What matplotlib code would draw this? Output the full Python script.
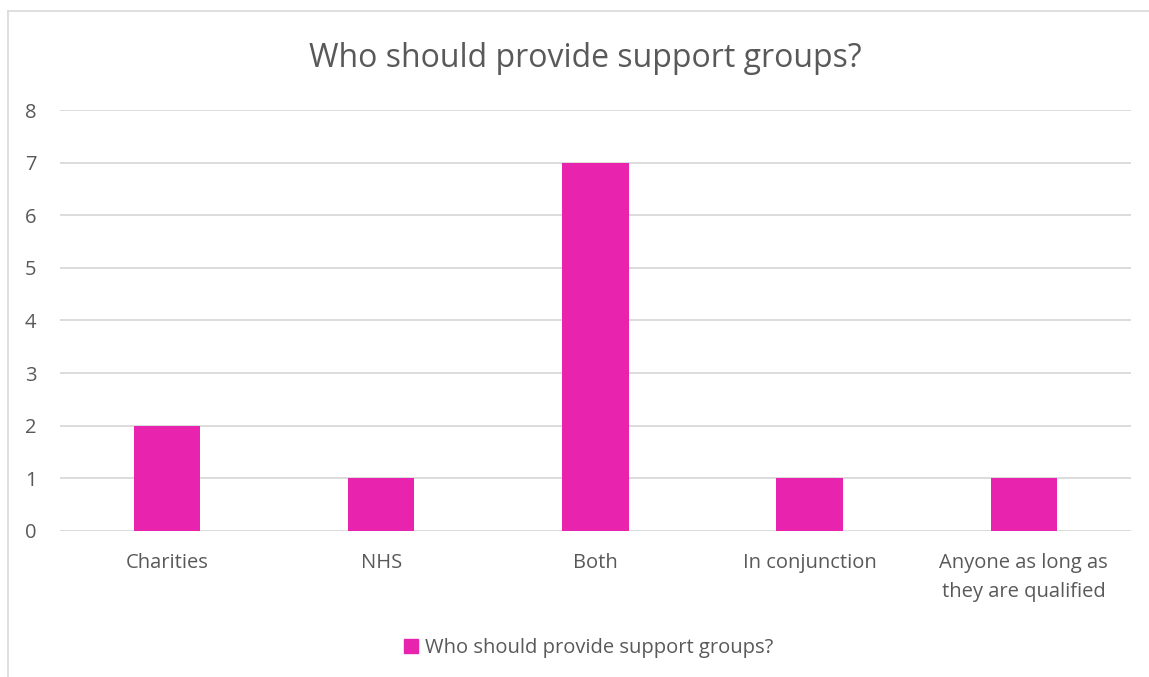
import matplotlib
matplotlib.use("Agg")
import matplotlib.pyplot as plt
from matplotlib.lines import Line2D
from matplotlib.patches import Patch

# datos de la encuesta
categorias = ["Charities", "NHS", "Both", "In conjunction",
              "Anyone as long as\nthey are qualified"]
respuestas = [2, 1, 7, 1, 1]
serie = "Who should provide support groups?"
titulo = "Who should provide support groups?"

COLOR_BARRA = "#E824AE"
COLOR_TEXTO = "#595959"
COLOR_REJILLA = "#D9D9D9"

plt.rcParams["font.family"] = ["Open Sans", "DejaVu Sans"]

fig = plt.figure(figsize=(11.49, 6.77), dpi=100)
ax = fig.add_axes([0.0522, 0.2157, 0.9321, 0.6218])

x = range(len(categorias))
ax.bar(x, respuestas, width=0.31, color=COLOR_BARRA, zorder=3)

ax.set_xlim(-0.5, len(categorias) - 0.5)
ax.set_ylim(0, 8)
ax.set_yticks(range(0, 9))
ax.set_xticks(list(x))
ax.set_xticklabels(categorias, fontsize=14.5, color=COLOR_TEXTO, linespacing=1.6)
ax.tick_params(axis="y", labelsize=14.5, labelcolor=COLOR_TEXTO, length=0, pad=17)
ax.tick_params(axis="x", length=0, pad=16)

ax.grid(axis="y", color=COLOR_REJILLA, linewidth=1.3, zorder=0)
for lado in ax.spines.values():
    lado.set_visible(False)

fig.text(0.509, 0.914, titulo, ha="center", va="center",
         fontsize=23, color=COLOR_TEXTO)

# leyenda abajo
fig.legend(handles=[Patch(color=COLOR_BARRA, label=serie)],
           loc="center", bbox_to_anchor=(0.512, 0.043), frameon=False,
           fontsize=14.5, labelcolor=COLOR_TEXTO, handlelength=0.7,
           handleheight=0.7, handletextpad=0.35)

# marco del grafico (solo se ve arriba y a la izquierda)
fig.add_artist(Line2D([8 / 1149, 1.0], [1 - 11 / 677, 1 - 11 / 677],
                      color=COLOR_REJILLA, linewidth=1.2, transform=fig.transFigure))
fig.add_artist(Line2D([8 / 1149, 8 / 1149], [0.0, 1 - 11 / 677],
                      color=COLOR_REJILLA, linewidth=1.2, transform=fig.transFigure))

fig.savefig("out.png", dpi=100)
